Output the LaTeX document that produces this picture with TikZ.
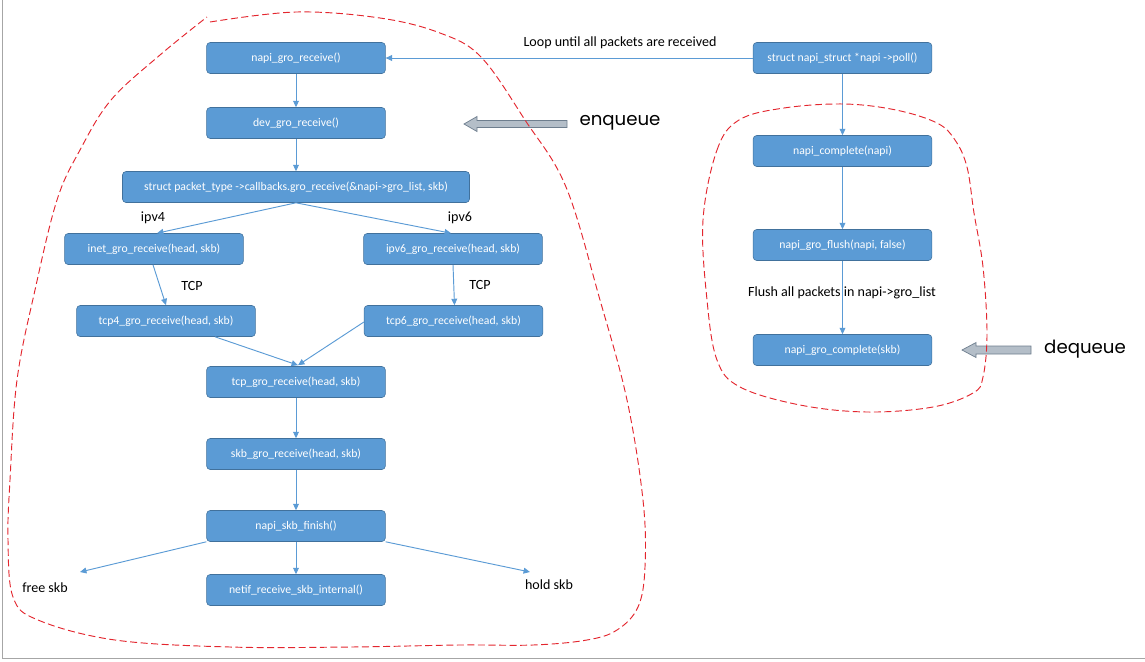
\documentclass[tikz,border=0pt]{standalone}
\usepackage{fontspec}
\setmainfont{Carlito}
\newfontfamily\gothic{Poppins}
\usetikzlibrary{arrows.meta,calc}
\definecolor{boxblue}{HTML}{5B9BD5}
\definecolor{boxedge}{HTML}{41719C}
\definecolor{lineblue}{HTML}{5B9BD5}
\definecolor{loopred}{HTML}{E3262E}
\definecolor{blockfill}{HTML}{B4BEC8}
\definecolor{blockedge}{HTML}{6E7E8E}
\definecolor{framegrey}{HTML}{A6A6A6}
\tikzset{
  fbox/.style={draw=boxedge, fill=boxblue, text=white, rounded corners=3pt,
    minimum height=0.93cm, minimum width=5.36cm, inner sep=0pt,
    font=\fontsize{10}{12}\selectfont, line width=0.5pt},
  lbl/.style={inner sep=0pt, font=\fontsize{12}{14}\selectfont, text=black},
  big/.style={inner sep=0pt, font=\gothic\fontsize{15.5}{18}\selectfont, text=black},
  conn/.style={draw=lineblue, line width=0.8pt, -{Triangle[length=5.5pt,width=5pt]}},
  redloop/.style={draw=loopred, line width=0.8pt, dash pattern=on 6pt off 3pt},
  blockarrow/.style={draw=blockedge, fill=blockfill, line width=0.6pt},
}
\begin{document}
\begin{tikzpicture}[x=0.03cm,y=-0.03cm]
\useasboundingbox (0,0) rectangle (1145,661);
% frame
\draw[framegrey, line width=0.8pt] (2,0) -- (2,658) -- (1145,658);

% left column
\node[fbox] (ngr) at (296,58) {napi\_gro\_receive()};
\node[fbox] (dgr) at (296,123) {dev\_gro\_receive()};
\node[fbox, minimum width=10.41cm] (pkt) at (296,187) {struct packet\_type ->callbacks.gro\_receive(\&napi->gro\_list, skb)};
\node[fbox] (inet) at (154,249) {inet\_gro\_receive(head, skb)};
\node[fbox] (ip6) at (453,249) {ipv6\_gro\_receive(head, skb)};
\node[fbox] (tcp4) at (166,321) {tcp4\_gro\_receive(head, skb)};
\node[fbox] (tcp6) at (453.5,321) {tcp6\_gro\_receive(head, skb)};
\node[fbox] (tcp) at (296,382) {tcp\_gro\_receive(head, skb)};
\node[fbox] (skb) at (296,454) {skb\_gro\_receive(head, skb)};
\node[fbox] (fin) at (296,526) {napi\_skb\_finish()};
\node[fbox] (netif) at (296,590) {netif\_receive\_skb\_internal()};

% right column
\node[fbox] (poll) at (842.5,58) {struct napi\_struct *napi ->poll()};
\node[fbox] (comp) at (842.5,151) {napi\_complete(napi)};
\node[fbox] (flush) at (842.5,245) {napi\_gro\_flush(napi, false)};
\node[fbox] (gcomp) at (842.5,350) {napi\_gro\_complete(skb)};

% labels
\node[lbl] (loopl) at (620,43) {Loop until all packets are received};
\node[lbl] (ipv4l) at (153,218) {ipv4};
\node[lbl] (ipv6l) at (460,218) {ipv6};
\node[lbl] (tcpl) at (192,286) {TCP};
\node[lbl] (tcpr) at (480,285) {TCP};
\node[lbl] (freel) at (45,588) {free skb};
\node[lbl] (holdl) at (549,585) {hold skb};
\node[big] (enq) at (620,123) {enqueue};
\node[big] (deq) at (1085,349) {dequeue};

\coordinate (freeend) at (80,572);
\coordinate (holdend) at (530,572);

% connectors
\draw[conn] (poll.west) -- (ngr.east);
\draw[conn] (ngr) -- (dgr);
\draw[conn] (dgr) -- (pkt);
\draw[conn] (pkt.south) -- ($(inet.north)+(3,0)$);
\draw[conn] (pkt.south) -- ($(ip6.north)+(-2,0)$);
\draw[conn] ($(inet.south)+(-1,0)$) -- (tcp4.north);
\draw[conn] (ip6.south) -- ($(tcp6.north)+(1,0)$);
\draw[conn] ($(tcp4.south)+(49,0)$) -- ($(tcp.north)+(2,-1)$);
\draw[conn] ($(tcp6.west)+(0,1)$) -- ($(tcp.north)+(2,-1)$);
\draw[conn] (tcp) -- (skb);
\draw[conn] (skb) -- (fin);
\draw[conn] (fin) -- (netif);
\draw[conn] (fin.south west) -- (freeend);
\draw[conn] (fin.south east) -- (holdend);
\draw[conn] (poll) -- (comp);
\draw[conn] (comp) -- (flush);
\draw[conn] (flush) -- (gcomp);

\node[lbl] (flushl) at (842,293) {Flush all packets in napi->gro\_list};

% block arrows
\draw[blockarrow] (464,124) -- (477,116.5) -- (477,120.5) -- (567,120.5) -- (567,127.5) -- (477,127.5) -- (477,131.5) -- cycle;
\draw[blockarrow] (962,350) -- (976,342.5) -- (976,346) -- (1031,346) -- (1031,354) -- (976,354) -- (976,357.5) -- cycle;

% red dashed outlines
\draw[redloop] plot[smooth, tension=0.6] coordinates {
 (210,22) (296,12) (380,18) (440,33) (481,57) (525,120) (566,187)
 (600,300) (627,400) (643,500) (645,567) (638,607) (617,630) (587,640)
 (533,645) (459,645) (350,647) (230,647) (115,640) (38,620) (13,597)
 (8,540) (10,480) (17,380) (35,290) (57,200) (80,150) (111,100) (160,55) (207,17)};
\draw[redloop] plot[smooth cycle, tension=0.6] coordinates {
 (703,220) (717,150) (739,120) (784,108) (844,104) (896,110) (937,123)
 (955,140) (967,167) (974,213) (983,267) (987,333) (983,377) (973,393)
 (933,407) (867,412) (800,405) (740,387) (717,360) (707,300)};
\end{tikzpicture}
\end{document}
